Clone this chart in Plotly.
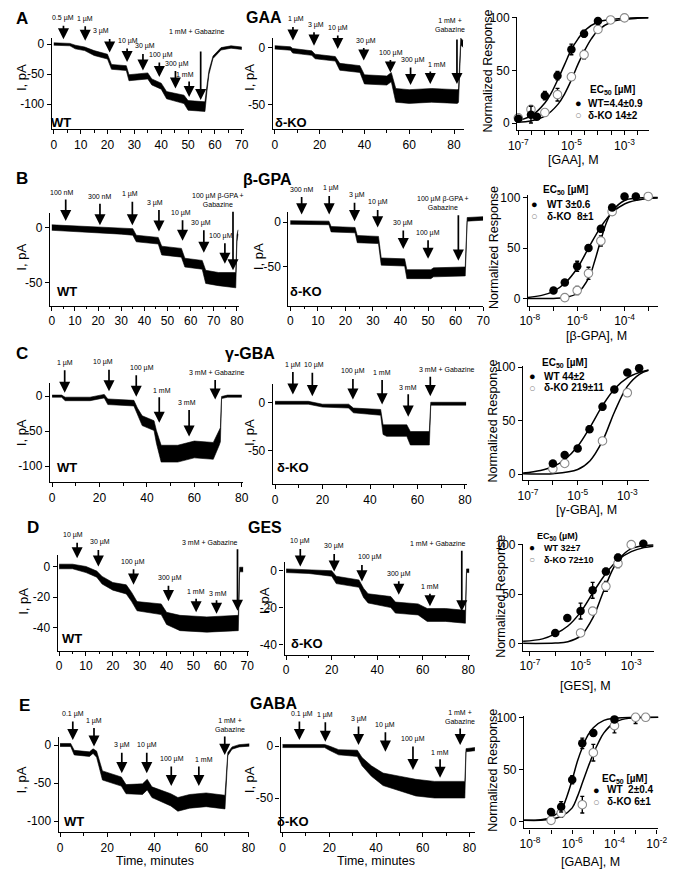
import plotly.graph_objects as go

W, H = 682, 873
FONT = "Liberation Sans, Arial, sans-serif"

# ======================= DATA =======================
# ---- Row A : GAA ----
A_WT_T = [0, 6, 8, 11.5, 15, 20, 21.5, 27, 28, 35, 36.5, 40, 42, 48.5, 50, 56.3, 57, 57.8, 59.3, 62.3, 66, 70]
A_WT_I = [0, -1, -5, -8, -15, -21, -38, -40, -56, -53, -63, -70, -85, -92, -102, -104, -75, -47, -22, -8, -5, -7]
A_WT_N = [2, 2, 3, 3, 4, 4, 4, 4, 5, 5, 5, 5, 6, 7, 8, 8, 5, 3, 2, 2, 2, 2]
A_WT_ARR_T = [3.6, 11.7, 20.8, 27.3, 33.2, 39.3, 45.3, 50.4, 54.7]
A_WT_ARR_Y = [8, 5.5, -14, -30, -44, -55, -74, -88, -93]
A_WT_ARR_LBL = ["0.5 µM", "1 µM", "3 µM", "10 µM", "30 µM", "100 µM", "300 µM", "1 mM", "1 mM + Gabazine"]

A_KO_T = [0, 7, 8, 16.5, 18, 27, 29, 38, 40, 50, 52, 54, 60, 70, 81.5, 82, 83, 84]
A_KO_I = [0, -1, -3, -5, -8, -10, -17, -19, -28, -29, -26, -42, -43, -42, -43, -42, 5, 3]
A_KO_N = [1.5, 1.5, 2, 2, 2, 2, 3, 3, 4, 4, 4, 6, 6, 6, 6, 6, 3, 3]
A_KO_ARR_T = [8.1, 17.5, 28.1, 39.7, 51.6, 60.6, 69.4, 81.3]
A_KO_ARR_Y = [6, 1.5, -1.5, -11.6, -22, -33, -32, -32]
A_KO_ARR_LBL = ["1 µM", "3 µM", "10 µM", "30 µM", "100 µM", "300 µM", "1 mM", "1 mM +<br>Gabazine"]

A_CONC_WT = [1e-7, 3e-7, 5e-7, 1e-6, 3e-6, 1e-5, 3e-5, 1e-4]
A_RESP_WT = [4, 8, 6, 26, 45, 70, 85, 97]
A_ERR_WT = [1, 8, 2, 4, 4, 5, 3, 2]
A_CONC_KO = [1e-7, 3e-7, 1e-6, 3e-6, 1e-5, 3e-5, 1e-4, 3e-4, 1e-3]
A_RESP_KO = [5, 13, 10, 27, 44, 65, 89, 98, 100]
A_ERR_KO = [1, 3, 2, 6, 3, 4, 2, 1, 1]
A_FIT_WT_LOGX = [-7.05, -6.5, -6.0, -5.75, -5.5, -5.25, -5.0, -4.75, -4.5, -4.0, -3.5, -3.0, -2.5, -2.1]
A_FIT_WT_Y = [2, 7, 19, 29, 42, 56, 70, 80, 88, 96, 98.5, 99.5, 100, 100]
A_FIT_KO_LOGX = [-7.05, -6.5, -6.0, -5.5, -5.25, -5.0, -4.75, -4.5, -4.25, -4.0, -3.5, -3.0, -2.5, -2.1]
A_FIT_KO_Y = [0.7, 2.2, 6.6, 18, 28, 41, 56, 69, 80, 88, 96, 98.6, 99.6, 100]
A_EC50 = ["WT=4.4±0.9", "δ-KO 14±2"]

# ---- Row B : beta-GPA ----
B_WT_T = [0, 10, 20, 30, 35, 36.5, 46, 47.5, 56, 57.5, 65, 66.5, 72, 79.5, 80, 80.5]
B_WT_I = [0, -1, -2, -3, -4, -10, -12, -21, -23, -32, -34, -45, -47, -48, -10, -4]
B_WT_N = [2.5, 2.5, 3, 3, 3, 3, 3, 4, 4, 4, 4, 6, 6, 7, 3, 2]
B_WT_ARR_T = [6.0, 20.8, 34.8, 46.3, 56.5, 65.7, 74.8, 78.3]
B_WT_ARR_Y = [6, 2, 2, -3.6, -12, -23, -33, -39]
B_WT_ARR_LBL = ["100 nM", "300 nM", "1 µM", "3 µM", "10 µM", "30 µM", "100 µM", "100 µM β-GPA +<br>Gabazine"]

B_KO_T = [0, 14, 14.8, 23.5, 24.3, 32, 33, 41.5, 42.3, 51, 52, 63.5, 64.2, 70]
B_KO_I = [-0.5, -1, -8, -9, -19, -20, -44, -45, -58, -58, -56, -55, 3, 4]
B_KO_N = [2, 2, 3, 3, 4, 4, 4, 4, 5, 5, 5, 5, 2, 2]
B_KO_ARR_T = [4.1, 14.1, 23.3, 31.7, 41, 50, 61]
B_KO_ARR_Y = [8.5, 8.5, 1, -6, -30, -41, -43]
B_KO_ARR_LBL = ["300 nM", "1 µM", "3 µM", "10 µM", "30 µM", "100 µM", "100 µM β-GPA +<br>Gabazine"]

B_CONC_WT = [1e-7, 3e-7, 1e-6, 3e-6, 1e-5, 3e-5, 1e-4, 3e-4]
B_RESP_WT = [8, 16, 32, 50, 69, 90, 101, 101]
B_ERR_WT = [1, 2, 5, 3, 3, 2, 1, 1]
B_CONC_KO = [3e-7, 1e-6, 3e-6, 1e-5, 3e-5, 1e-3]
B_RESP_KO = [1, 8, 25, 57, 86, 101]
B_ERR_KO = [1, 4, 6, 5, 2, 1]
B_FIT_WT_LOGX = [-8.08, -7.5, -7.0, -6.5, -6.0, -5.5, -5.0, -4.5, -4.0, -3.5, -3.0, -2.6]
B_FIT_WT_Y = [1.2, 3.2, 7.2, 15.6, 30, 51, 71, 85.6, 93.6, 97.2, 98.8, 99.4]
B_FIT_KO_LOGX = [-8.08, -7.0, -6.5, -6.0, -5.5, -5.25, -5.0, -4.75, -4.5, -4.0, -3.5, -2.6]
B_FIT_KO_Y = [0, 0.2, 1.1, 5.3, 21, 38, 58, 76, 87, 97, 99.4, 100]
B_EC50 = ["WT 3±0.6", "δ-KO  8±1"]

# ---- Row C : gamma-GBA ----
C_WT_T = [0, 4, 5.5, 16, 22, 23.5, 34.5, 36, 38, 43, 44, 46, 53, 60, 68, 70.5, 71, 71.5, 74, 80]
C_WT_I = [0, 0, -4, -4, 0, -8, -10, -22, -35, -42, -58, -82, -82, -76, -78, -60, -55, -2, 0, 0]
C_WT_N = [1.5, 1.5, 2.5, 2.5, 2.5, 4, 4, 5, 7, 7, 9, 12, 12, 12, 12, 10, 10, 1.5, 1.5, 1.5]
C_WT_ARR_T = [5.3, 24, 35.5, 45.2, 57.8, 68.8]
C_WT_ARR_Y = [4.7, 7, -1, -38, -57.5, -4.7]
C_WT_ARR_LBL = ["1 µM", "10 µM", "100 µM", "1 mM", "3 mM", "3 mM + Gabazine"]

C_KO_T = [0, 14, 20, 31, 33, 44.5, 45.5, 47, 55.5, 57, 65, 65.6, 70, 80.5]
C_KO_I = [0, 0, -3, -3.5, -8, -10, -28, -29, -29, -37, -37, -1, -1, -1]
C_KO_N = [1.5, 1.5, 1.5, 2, 2.5, 3, 5, 6, 6, 7, 7, 1.5, 1.5, 1.5]
C_KO_ARR_T = [7.5, 15.7, 32.8, 45.1, 56.1, 65.4]
C_KO_ARR_Y = [8.6, 6.9, 3.4, -1.7, -14.5, 6.9]
C_KO_ARR_LBL = ["1 µM", "10 µM", "100 µM", "1 mM", "3 mM", "3 mM + Gabazine"]

C_CONC_WT = [1e-6, 3e-6, 1e-5, 3e-5, 1e-4, 3e-4, 1e-3, 3e-3]
C_RESP_WT = [10, 18, 24, 42, 63, 79, 95, 99]
C_ERR_WT = [2, 2, 2, 3, 3, 2, 2, 1]
C_CONC_KO = [1e-6, 3e-6, 1e-4, 1e-3]
C_RESP_KO = [5, 10, 31, 76]
C_ERR_KO = [2, 2, 3, 3]
C_FIT_WT_LOGX = [-7.2, -6.5, -6.0, -5.5, -5.0, -4.5, -4.0, -3.5, -3.0, -2.5, -2.14]
C_FIT_WT_Y = [1, 3.5, 6.9, 13.9, 26, 44, 64, 80, 90, 95, 97.2]
C_FIT_KO_LOGX = [-7.2, -6.0, -5.0, -4.5, -4.0, -3.66, -3.5, -3.0, -2.5, -2.14]
C_FIT_KO_Y = [0.3, 0.5, 4.4, 12.6, 31, 50, 59, 82, 93.5, 97]
C_EC50 = ["WT 44±2", "δ-KO 219±11"]

# ---- Row D : GES ----
D_WT_T = [0, 5, 10, 14, 16, 20, 25, 27, 29, 38, 40, 45, 55, 66.7, 67.2, 68.5]
D_WT_I = [0, 0, -2, -5, -9, -13, -15, -20, -26, -28, -34, -37, -38, -37, -2, -2]
D_WT_N = [1.5, 1.5, 2, 2, 2.5, 2.5, 3, 3, 3, 3.5, 4, 5, 5, 5, 1.5, 1.5]
D_WT_ARR_T = [6.7, 14.6, 27.7, 40.7, 51, 58.6, 66.4]
D_WT_ARR_Y = [5.4, 0, -11.9, -22.7, -30, -31, -29]
D_WT_ARR_LBL = ["10 µM", "30 µM", "100 µM", "300 µM", "1 mM", "3 mM", "3 mM + Gabazine"]

D_KO_T = [0, 10, 20, 22, 32, 34, 36, 46, 48, 58, 62, 70, 78.8, 79.3, 80.5]
D_KO_I = [0, -0.5, -1.5, -5, -7, -12, -15, -17, -20, -21, -24, -24, -25, 0, 0]
D_KO_N = [1, 1, 1.5, 2, 2, 2.5, 2.5, 3, 3, 3, 3.5, 3.5, 3.5, 1, 1]
D_KO_ARR_T = [6.2, 21.1, 33.3, 49.5, 63.2, 77.2]
D_KO_ARR_Y = [2.3, -0.4, -5.8, -13, -19.3, -22]
D_KO_ARR_LBL = ["10 µM", "30 µM", "100 µM", "300 µM", "1 mM", "1 mM + Gabazine"]

D_CONC_WT = [1e-6, 3e-6, 1e-5, 3e-5, 1e-4, 3e-4, 3e-3]
D_RESP_WT = [11, 26, 33, 54, 73, 87, 101]
D_ERR_WT = [2, 2, 8, 8, 3, 3, 1]
D_CONC_KO = [1e-5, 3e-5, 1e-4, 3e-4, 1e-3]
D_RESP_KO = [11, 33, 58, 81, 100]
D_ERR_KO = [2, 3, 5, 4, 2]
D_FIT_WT_LOGX = [-7.27, -6.5, -6.0, -5.5, -5.0, -4.5, -4.0, -3.5, -3.0, -2.5, -2.12]
D_FIT_WT_Y = [2.5, 5, 10, 18, 32, 52, 71, 85, 93, 97, 98.5]
D_FIT_KO_LOGX = [-7.27, -6.0, -5.5, -5.0, -4.5, -4.14, -3.75, -3.5, -3.0, -2.5, -2.12]
D_FIT_KO_Y = [0.5, 0.8, 2.2, 8, 27, 50, 74, 85, 96, 99, 99.6]
D_EC50 = ["WT 32±7", "δ-KO 72±10"]

# ---- Row E : GABA ----
E_WT_T = [0, 4.5, 6, 12.5, 14, 15.5, 18, 26, 28, 35, 37, 39, 47, 50, 55, 62, 70, 70.6, 71.2, 73, 76, 80.4]
E_WT_I = [0, 0, -10, -12, -8, -12, -40, -48, -58, -58, -52, -62, -72, -78, -74, -72, -75, -35, -12, -4, -1, 0]
E_WT_N = [2, 2, 3, 3, 3, 4, 6, 6, 6, 7, 7, 7, 8, 9, 9, 9, 9, 3, 2, 1.5, 1.5, 1.5]
E_WT_ARR_T = [5.4, 14.4, 26.2, 36.8, 47.2, 58.9, 69.9]
E_WT_ARR_Y = [6.5, -2, -37, -37, -54, -54, -13]
E_WT_ARR_LBL = ["0.1 µM", "1 µM", "3 µM", "10 µM", "100 µM", "1 mM", "1 mM +<br>Gabazine"]

E_KO_T = [0, 18, 20, 24, 32, 34, 38, 43, 50, 57, 65, 72, 78, 78.5, 82.3]
E_KO_I = [0, 0, -2, -6, -7, -15, -24, -32, -36, -40, -42, -42, -42, -4, -3]
E_KO_N = [1.5, 1.5, 2, 2.5, 3, 4, 5, 6, 7, 8, 8, 8, 8, 1.5, 1.5]
E_KO_ARR_T = [7.2, 18.3, 32.5, 44, 55.8, 67.4, 76]
E_KO_ARR_Y = [5.7, 4, 1, -5.4, -23, -30.6, 1]
E_KO_ARR_LBL = ["0.1 µM", "1 µM", "3 µM", "10 µM", "100 µM", "1 mM", "1 mM +<br>Gabazine"]

E_CONC_WT = [1e-7, 3e-7, 1e-6, 3e-6, 1e-5, 1e-4]
E_RESP_WT = [9, 14, 40, 75, 85, 98]
E_ERR_WT = [2, 5, 4, 5, 3, 2]
E_CONC_KO = [1e-7, 3e-7, 3e-6, 1e-5, 1e-4, 1e-3, 3e-3]
E_RESP_KO = [1, 8, 16, 66, 92, 100, 100]
E_ERR_KO = [1, 4, 8, 8, 7, 6, 1]
E_FIT_WT_LOGX = [-8.28, -7.5, -7.0, -6.5, -6.25, -6.0, -5.75, -5.5, -5.25, -5.0, -4.5, -4.0, -3.0, -1.92]
E_FIT_WT_Y = [1, 1.5, 4, 12, 24, 40, 58, 72, 83, 90, 97, 99, 100, 100]
E_FIT_KO_LOGX = [-8.28, -7.5, -7.0, -6.5, -6.0, -5.75, -5.5, -5.25, -5.0, -4.75, -4.5, -4.0, -3.5, -3.0, -1.92]
E_FIT_KO_Y = [1, 1, 2, 5, 13, 24, 38, 52, 65, 76, 85, 95, 98.5, 99.5, 100]
E_EC50 = ["WT  2±0.4", "δ-KO 6±1"]

ROW_LETTERS = ["A", "B", "C", "D", "E"]
ROW_TITLES = ["GAA", "β-GPA", "γ-GBA", "GES", "GABA"]
DOSE_XTITLES = ["[GAA], M", "[β-GPA], M", "[γ-GBA], M", "[GES], M", "[GABA], M"]

# ======================= STYLE / LAYOUT =======================
def fx(px):
    return px / W


def fy(py):
    return 1 - py / H


fig = go.Figure()
annotations = []
layout_axes = {}
counter = [0]


def new_axes(xdom, ydom, xr, yr, xtv, xtt, xminor, ytv, ytt, xlog=False, tickfont=12, minorlen=2.5):
    counter[0] += 1
    i = counter[0]
    xs = "x" if i == 1 else f"x{i}"
    ys = "y" if i == 1 else f"y{i}"
    common = dict(showline=True, linecolor="black", linewidth=1.3, ticks="outside",
                  ticklen=4, tickwidth=1.3, tickcolor="black", showgrid=False,
                  zeroline=False, tickfont=dict(family=FONT, size=tickfont, color="black"))
    xa = dict(common, domain=[fx(xdom[0]), fx(xdom[1])], range=list(xr), anchor=ys,
              tickmode="array", tickvals=xtv, ticktext=xtt)
    if xlog:
        xa["type"] = "log"
    if xminor:
        xa["minor"] = dict(tickvals=xminor, ticks="outside", ticklen=minorlen,
                           tickwidth=1.1, tickcolor="black", showgrid=False)
    ya = dict(common, domain=[fy(ydom[1]), fy(ydom[0])], range=list(yr), anchor=xs,
              tickmode="array", tickvals=ytv, ticktext=ytt)
    layout_axes["xaxis" if i == 1 else f"xaxis{i}"] = xa
    layout_axes["yaxis" if i == 1 else f"yaxis{i}"] = ya
    return xs, ys


def trace_panel(T, I, N, arrT, arrY, arrL, sty, xdom, ydom, xr, yr, xstep, ymajor, lblsize=7):
    xmax = int(xr[1] // xstep * xstep + 0.001)
    xtv = list(range(0, xmax + 1, xstep))
    xminor = [v + xstep / 2 for v in xtv]
    xminor = [v for v in xminor if v < xr[1]]
    xs, ys = new_axes(xdom, ydom, xr, yr, xtv, [str(v) for v in xtv], xminor,
                      ymajor, [str(v) for v in ymajor])
    lower = [a - b for a, b in zip(I, N)]
    upper = [a + b for a, b in zip(I, N)]
    fig.add_trace(go.Scatter(x=T, y=lower, mode="lines", line=dict(color="black", width=0.6),
                             xaxis=xs, yaxis=ys, showlegend=False, hoverinfo="skip"))
    fig.add_trace(go.Scatter(x=T, y=upper, mode="lines", line=dict(color="black", width=0.6),
                             fill="tonexty", fillcolor="black",
                             xaxis=xs, yaxis=ys, showlegend=False, hoverinfo="skip"))
    L, DX, GAP = sty
    for t, y, lbl, l, dx, g in zip(arrT, arrY, arrL, L, DX, GAP):
        # arrow (no text) pointing down onto the trace
        annotations.append(dict(x=t, y=y, xref=xs, yref=ys, ax=0, ay=-l, text="",
                                showarrow=True, arrowhead=2, arrowsize=1.3, arrowwidth=1.7,
                                arrowcolor="black", standoff=0))
        # concentration label above the arrow
        annotations.append(dict(x=t, y=y, xref=xs, yref=ys, text=lbl, showarrow=False,
                                xshift=dx, yshift=l + g, yanchor="bottom", xanchor="center",
                                borderpad=0,
                                font=dict(family=FONT, size=lblsize, color="black")))
    return xs, ys


def dose_panel(cw, rw, ew, ck, rk, ek, fwx, fwy, fkx, fky, xdom, ydom, xr, yr, tick_exp, label_exp):
    tv = [10 ** e for e in label_exp]
    tt = [f"10<sup>{int(e)}</sup>" for e in label_exp]
    mv = [10 ** e for e in tick_exp if e not in label_exp]
    xs, ys = new_axes(xdom, ydom, xr, yr, tv, tt, mv, [0, 50, 100], ["0", "50", "100"],
                      xlog=True, minorlen=4)
    for fxv, fyv in ((fwx, fwy), (fkx, fky)):
        fig.add_trace(go.Scatter(x=[10 ** e for e in fxv], y=fyv, mode="lines",
                                 line=dict(color="black", width=1.5, shape="spline", smoothing=1.0),
                                 xaxis=xs, yaxis=ys, showlegend=False, hoverinfo="skip"))
    fig.add_trace(go.Scatter(x=ck, y=rk, mode="markers",
                             marker=dict(size=8.5, color="white", line=dict(color="#8a8a8a", width=1.1)),
                             error_y=dict(type="data", array=ek, color="black", thickness=1.4, width=2),
                             xaxis=xs, yaxis=ys, showlegend=False, cliponaxis=False))
    fig.add_trace(go.Scatter(x=cw, y=rw, mode="markers",
                             marker=dict(size=8.5, color="black"),
                             error_y=dict(type="data", array=ew, color="black", thickness=1.4, width=2),
                             xaxis=xs, yaxis=ys, showlegend=False, cliponaxis=False))
    return xs, ys


def text(px, py, s, size=12, bold=False, angle=0, color="black", xanchor="center", yanchor="middle"):
    if bold:
        s = f"<b>{s}</b>"
    annotations.append(dict(x=fx(px), y=fy(py), xref="paper", yref="paper", text=s, showarrow=False,
                            textangle=angle, xanchor=xanchor, yanchor=yanchor, borderpad=0,
                            font=dict(family=FONT, size=size, color=color)))


def legend(hx, hy, sx, tx, y1, y2, labels, header="EC<sub>50</sub> [µM]", size=10):
    text(hx, hy, header, size=size, bold=True)
    text(sx, y1, "●", size=size + 1, color="black")
    text(sx, y2, "○", size=size + 1, color="#888888")
    text(tx, y1, labels[0], size=size, bold=True, xanchor="left")
    text(tx, y2, labels[1], size=size, bold=True, xanchor="left")


# ---------------- Row A ----------------
trace_panel(A_WT_T, A_WT_I, A_WT_N, A_WT_ARR_T, A_WT_ARR_Y, A_WT_ARR_LBL,
            ([15, 16, 15, 15, 18, 16, 19, 17, 50], [0, 0, -9, 1, 2, 2, 2, -4, -4], [1, 1, 1, 1, 1, 1, 1, 1, 14]),
            (44, 241), (32, 124), (-0.73, 70.7), (-141.2, 10.4), 10, [0, -50, -100])
trace_panel(A_KO_T, A_KO_I, A_KO_N, A_KO_ARR_T, A_KO_ARR_Y, A_KO_ARR_LBL,
            ([15, 15, 15, 14, 14, 19, 14, 46], [3, 2, 0, 2, 1, 2, 7, -7], [1, 1, 1, 1, 1, 1, 1, 4]),
            (271, 467), (32, 124), (-0.87, 84.3), (-71.4, 8.4), 20, [0, -50])
dose_panel(A_CONC_WT, A_RESP_WT, A_ERR_WT, A_CONC_KO, A_RESP_KO, A_ERR_KO,
           A_FIT_WT_LOGX, A_FIT_WT_Y, A_FIT_KO_LOGX, A_FIT_KO_Y,
           (522, 657), (11, 125), (-7.04, -2.09), (-6.6, 100.9),
           [-7, -6.5, -6, -5.5, -5, -4.5, -4, -3.5, -3, -2.5], [-7, -5, -3])
legend(620, 85, 585, 594, 98, 110, A_EC50)

# ---------------- Row B ----------------
trace_panel(B_WT_T, B_WT_I, B_WT_N, B_WT_ARR_T, B_WT_ARR_Y, B_WT_ARR_LBL,
            ([23, 23, 25, 23, 22, 24, 22, 60], [-4, 0, -2, -4, -2, -3, -4, -15], [1, 1, 1, 1, 1, 1, 1, 1]),
            (42, 236), (209, 302), (-0.84, 80.8), (-71.2, 13), 10, [0, -50])
trace_panel(B_KO_T, B_KO_I, B_KO_N, B_KO_ARR_T, B_KO_ARR_Y, B_KO_ARR_LBL,
            ([19, 20, 20, 19, 20, 20, 47], [0, 2, 2, 0, 0, 0, -15], [1, 1, 1, 1, 1, 1, 2]),
            (287, 487), (208, 302), (-0.7, 70), (-93, 10.8), 10, [0, -50])
dose_panel(B_CONC_WT, B_RESP_WT, B_ERR_WT, B_CONC_KO, B_RESP_KO, B_ERR_KO,
           B_FIT_WT_LOGX, B_FIT_WT_Y, B_FIT_KO_LOGX, B_FIT_KO_Y,
           (533, 667), (191, 302), (-8.08, -2.57), (-6.9, 102),
           [-8, -7, -6, -5, -4, -3], [-8, -6, -4])
legend(572, 185, 540, 552, 200, 212, B_EC50)

# ---------------- Row C ----------------
trace_panel(C_WT_T, C_WT_I, C_WT_N, C_WT_ARR_T, C_WT_ARR_Y, C_WT_ARR_LBL,
            ([24, 23, 23, 27, 28, 21], [0, -6, 6, 3, -2, 2], [1] * 6),
            (42, 240), (380, 480), (-0.94, 80.4), (-122.6, 18.8), 20, [0, -50, -100])
trace_panel(C_KO_T, C_KO_I, C_KO_N, C_KO_ARR_T, C_KO_ARR_Y, C_KO_ARR_LBL,
            ([24, 25, 22, 26, 24, 21], [0, 2, 0, 0, 0, 17], [1] * 6),
            (271, 470), (381, 482), (-0.94, 80.7), (-84.8, 19.6), 20, [0, -50])
dose_panel(C_CONC_WT, C_RESP_WT, C_ERR_WT, C_CONC_KO, C_RESP_KO, C_ERR_KO,
           C_FIT_WT_LOGX, C_FIT_WT_Y, C_FIT_KO_LOGX, C_FIT_KO_Y,
           (528, 657), (363, 478), (-7.2, -2.14), (-5.6, 100.9),
           [-7, -6, -5, -4, -3], [-7, -5, -3])
legend(571, 360, 538, 548, 373, 385, C_EC50)

# ---------------- Row D ----------------
trace_panel(D_WT_T, D_WT_I, D_WT_N, D_WT_ARR_T, D_WT_ARR_Y, D_WT_ARR_LBL,
            ([17, 18, 17, 17, 15, 15, 63], [-4, 2, -1, 2, 0, 1, -27], [1] * 7),
            (50, 246), (553, 650), (-0.54, 70.5), (-55.2, 7.8), 10, [0, -20, -40])
trace_panel(D_KO_T, D_KO_I, D_KO_N, D_KO_ARR_T, D_KO_ARR_Y, D_KO_ARR_LBL,
            ([19, 19, 18, 15, 14, 62], [0, 0, 8, 0, 0, -24], [1] * 6),
            (283, 473), (560, 654), (-0.73, 80.6), (-45.6, 5.0), 20, [0, -20, -40])
dose_panel(D_CONC_WT, D_RESP_WT, D_ERR_WT, D_CONC_KO, D_RESP_KO, D_ERR_KO,
           D_FIT_WT_LOGX, D_FIT_WT_Y, D_FIT_KO_LOGX, D_FIT_KO_Y,
           (528, 662), (542, 650), (-7.27, -2.12), (-7, 101),
           [-7, -6, -5, -4, -3], [-7, -5, -3])
legend(563, 535, 537, 548, 546, 558, D_EC50, header="EC<sub>50</sub> (µM)", size=9)

# ---------------- Row E ----------------
trace_panel(E_WT_T, E_WT_I, E_WT_N, E_WT_ARR_T, E_WT_ARR_Y, E_WT_ARR_LBL,
            ([20, 20, 22, 22, 21, 21, 20], [0, 0, 0, 0, 1, 5, 5], [1] * 7),
            (51, 247), (737, 833), (-0.6, 80.4), (-114.7, 10.4), 20, [0, -50, -100])
trace_panel(E_KO_T, E_KO_I, E_KO_N, E_KO_ARR_T, E_KO_ARR_Y, E_KO_ARR_LBL,
            ([20, 21, 20, 21, 25, 20, 18], [3, 0, 0, 0, 0, 0, 0], [1] * 7),
            (279, 479), (737, 833), (-0.83, 82.5), (-83, 8.6), 20, [0, -50])
dose_panel(E_CONC_WT, E_RESP_WT, E_ERR_WT, E_CONC_KO, E_RESP_KO, E_ERR_KO,
           E_FIT_WT_LOGX, E_FIT_WT_Y, E_FIT_KO_LOGX, E_FIT_KO_Y,
           (529, 667), (716, 829), (-8.28, -1.92), (-6.7, 101),
           [-8, -7, -6, -5, -4, -3, -2], [-8, -6, -4, -2])
legend(632, 779, 603, 613, 790, 802, E_EC50)

# ---------------- labels ----------------
letter_pos = [(13, 13), (13, 174), (13, 350), (25, 526), (16, 705)]
title_pos = [(262, 12), (266, 175), (248, 350), (263, 526), (272, 703)]
for (lx, ly), (tx, ty), L, T in zip(letter_pos, title_pos, ROW_LETTERS, ROW_TITLES):
    text(lx, ly, L, size=17, bold=True)
    text(tx, ty, T, size=16, bold=True)

ylab_pos = [(13, 72), (247, 72), (13, 253), (257, 253), (13, 430), (247, 430),
            (15, 600), (262, 600), (13, 780), (247, 780)]
for (x, y) in ylab_pos:
    text(x, y, "I, pA", size=13, angle=-90)

geno_pos = [(53, 117, "WT"), (290, 117, "δ-KO"), (60, 288, "WT"), (305, 288, "δ-KO"),
            (60, 465, "WT"), (292, 465, "δ-KO"), (65, 638, "WT"), (306, 643, "δ-KO"),
            (67, 822, "WT"), (292, 822, "δ-KO")]
for (x, y, s) in geno_pos:
    text(x, y, s, size=13, bold=True)

nr_pos = [(492, 66), (498, 243), (497, 418), (506, 595), (497, 770)]
for (x, y) in nr_pos:
    text(x, y, "Normalized Response", size=12.5, angle=-90)

xt_pos = [(580, 155), (603, 333), (593, 508), (592, 686), (597, 863)]
for (x, y), s in zip(xt_pos, DOSE_XTITLES):
    text(x, y, s, size=12.5)

text(150, 862, "Time, minutes", size=12.5)
text(377, 862, "Time, minutes", size=12.5)

fig.update_layout(width=W, height=H, margin=dict(l=0, r=0, t=0, b=0),
                  paper_bgcolor="white", plot_bgcolor="white",
                  font=dict(family=FONT, color="black"),
                  annotations=annotations, showlegend=False, **layout_axes)

fig.write_html("out.html")
